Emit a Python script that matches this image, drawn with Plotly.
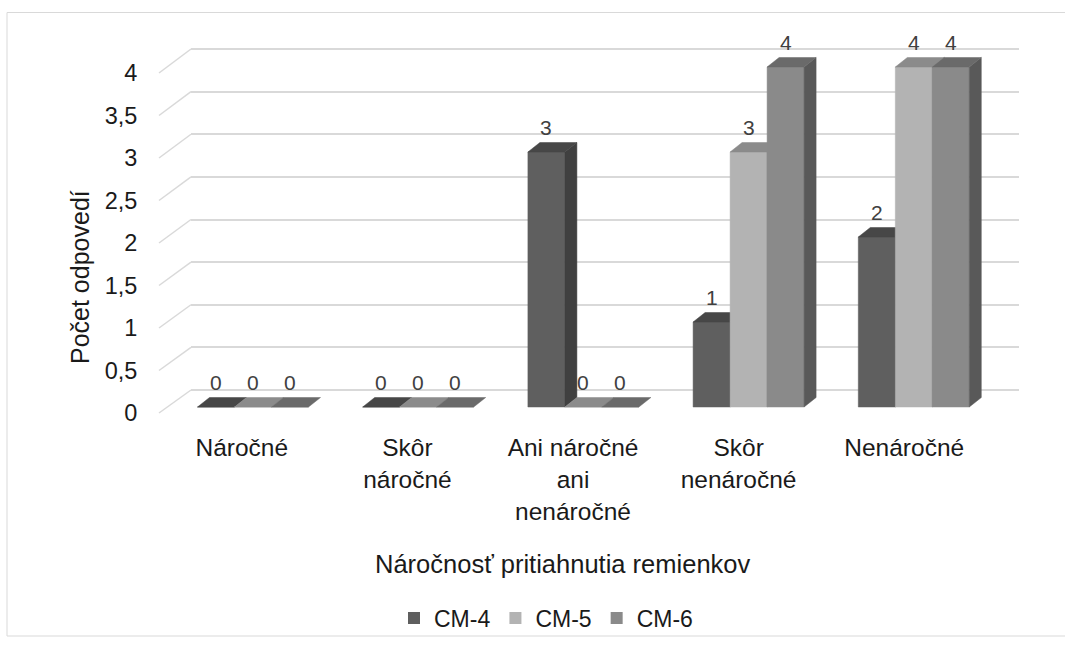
import plotly.graph_objects as go

# ---------------- data ----------------
categories = ["Náročné", "Skôr<br>náročné", "Ani náročné<br>ani<br>nenáročné",
              "Skôr<br>nenáročné", "Nenáročné"]
series_names = ["CM-4", "CM-5", "CM-6"]
cm4 = [0, 0, 3, 1, 2]
cm5 = [0, 0, 0, 3, 4]
cm6 = [0, 0, 0, 4, 4]
y_tick_values = [0, 0.5, 1, 1.5, 2, 2.5, 3, 3.5, 4]
y_tick_labels = ["0", "0,5", "1", "1,5", "2", "2,5", "3", "3,5", "4"]
x_title = "Náročnosť pritiahnutia remienkov"
y_title = "Počet odpovedí"

# ---------------- style ----------------
W, H = 1065, 648
front_colors = ["#5f5f5f", "#b3b3b3", "#8a8a8a"]
side_colors = ["#404040", "#878787", "#595959"]
top_colors = ["#474747", "#8b8b8b", "#6a6a6a"]
grid_color = "#d9d9d9"
FONT = "Liberation Sans, Arial, sans-serif"
TEXT = "#1a1a1a"

def xdom(p0, p1):
    return [p0 / W, p1 / W]

def ydom(pb, pt):
    return [(H - pb) / H, (H - pt) / H]

# pixel geometry of the pseudo-3D projection
cat_px = 165.2          # pixels per category (bars plane)
unit_px_bar = 85.0      # pixels per value unit (bars plane)
bar_w = 37.0 / cat_px   # bar width in category units
dx = 12.0 / cat_px      # depth offset x (data units)
dy = 9.5 / unit_px_bar  # depth offset y (data units)

series = [cm4, cm5, cm6]
offsets = [-bar_w, 0.0, bar_w]

fig = go.Figure()

# dummy traces so the wall subplot (drawn first) and label subplot exist
fig.add_trace(go.Scatter(x=[None], y=[None], xaxis="x", yaxis="y",
                         showlegend=False, hoverinfo="skip"))
fig.add_trace(go.Scatter(x=[None], y=[None], xaxis="x3", yaxis="y3",
                         showlegend=False, hoverinfo="skip"))

for s, vals in enumerate(series):
    fx, fy, sx, sy, tx, ty = [], [], [], [], [], []
    for i, v in enumerate(vals):
        x0 = i + offsets[s] - bar_w / 2
        x1 = x0 + bar_w
        fx += [x0, x1, x1, x0, x0, None]
        fy += [0, 0, v, v, 0, None]
        if v > 0:
            sx += [x1, x1 + dx, x1 + dx, x1, x1, None]
            sy += [0, dy, v + dy, v, 0, None]
        tx += [x0, x1, x1 + dx, x0 + dx, x0, None]
        ty += [v, v, v + dy, v + dy, v, None]
    for xs, ys, col in ((fx, fy, front_colors[s]), (sx, sy, side_colors[s]),
                        (tx, ty, top_colors[s])):
        if not xs:
            continue
        fig.add_trace(go.Scatter(x=xs, y=ys, xaxis="x2", yaxis="y2",
                                 mode="lines", fill="toself", fillcolor=col,
                                 line=dict(color=col, width=0.5),
                                 showlegend=False, hoverinfo="skip"))
    # legend entry
    fig.add_trace(go.Scatter(x=[None], y=[None], xaxis="x2", yaxis="y2",
                             mode="markers", name=series_names[s],
                             marker=dict(symbol="square", size=12,
                                         color=front_colors[s])))
    # data labels
    for i, v in enumerate(vals):
        fig.add_annotation(x=i + offsets[s], y=v, xref="x2", yref="y2",
                           text=str(v), showarrow=False, yshift=25,
                           yanchor="middle",
                           font=dict(family=FONT, size=21, color="#404040"))

# slanted connectors of the gridlines (side wall)
for v in y_tick_values:
    fx0, fy0 = 159, 413 - 85.0 * v
    bx0, by0 = 191, 390 - 85.25 * v
    fig.add_shape(type="line", xref="paper", yref="paper",
                  x0=fx0 / W, y0=(H - fy0) / H, x1=bx0 / W, y1=(H - by0) / H,
                  line=dict(color=grid_color, width=1.5), layer="below")

# chart border
fig.add_shape(type="rect", xref="paper", yref="paper",
              x0=7 / W, y0=(H - 636) / H, x1=1075 / W, y1=(H - 12.5) / H,
              line=dict(color=grid_color, width=1), layer="below")

fig.add_annotation(x=562 / W, y=(H - 564) / H, xref="paper", yref="paper",
                   text=x_title, showarrow=False, xanchor="center",
                   yanchor="middle", font=dict(family=FONT, size=25.5, color=TEXT))
fig.add_annotation(x=80 / W, y=(H - 277) / H, xref="paper", yref="paper",
                   text=y_title, showarrow=False, textangle=-90,
                   xanchor="center", yanchor="middle",
                   font=dict(family=FONT, size=25, color=TEXT))

fig.update_layout(
    width=W, height=H,
    margin=dict(l=0, r=0, t=0, b=0),
    paper_bgcolor="white", plot_bgcolor="rgba(0,0,0,0)",
    font=dict(family=FONT, size=23, color=TEXT),
    # back wall with gridlines
    xaxis=dict(domain=xdom(191, 1019), range=[0, 1], visible=False,
               fixedrange=True),
    yaxis=dict(domain=ydom(390 + 0.2 * 85.25, 390 - 4.2 * 85.25),
               range=[-0.2, 4.2], anchor="x", showgrid=True,
               gridcolor=grid_color, gridwidth=2, tickvals=y_tick_values,
               showticklabels=False, zeroline=False, showline=False,
               ticks="", fixedrange=True),
    # bars plane
    xaxis2=dict(domain=xdom(253 - cat_px / 2, 253 + 4.5 * cat_px),
                range=[-0.5, 4.5], visible=False, anchor="y2", fixedrange=True),
    yaxis2=dict(domain=ydom(407 + 0.2 * unit_px_bar, 407 - 4.5 * unit_px_bar),
                range=[-0.2, 4.5], visible=False, anchor="x2", fixedrange=True),
    # front (label) plane
    xaxis3=dict(domain=xdom(159, 987), range=[-0.5, 4.5],
                anchor="free", position=(H - 413) / H,
                tickvals=list(range(len(categories))), ticktext=categories,
                ticks="outside", ticklen=13, tickcolor="rgba(0,0,0,0)",
                showgrid=False, zeroline=False, showline=False,
                tickfont=dict(family=FONT, size=24.5, color=TEXT),
                fixedrange=True),
    yaxis3=dict(domain=ydom(413 + 0.2 * 85, 413 - 4.2 * 85),
                range=[-0.2, 4.2], anchor="free", position=159 / W,
                tickvals=y_tick_values, ticktext=y_tick_labels,
                ticks="outside", ticklen=17, tickcolor="rgba(0,0,0,0)",
                showgrid=False, zeroline=False, showline=False,
                tickfont=dict(family=FONT, size=23.5, color=TEXT),
                fixedrange=True),
    legend=dict(orientation="h", x=546 / W, xanchor="center",
                y=(H - 618) / H, yanchor="middle",
                bgcolor="rgba(0,0,0,0)",
                font=dict(family=FONT, size=23, color=TEXT),
                itemclick=False, itemdoubleclick=False),
    showlegend=True,
)

fig.write_html("out.html", post_script="document.body.style.margin='0';",
               config={"displayModeBar": False})
